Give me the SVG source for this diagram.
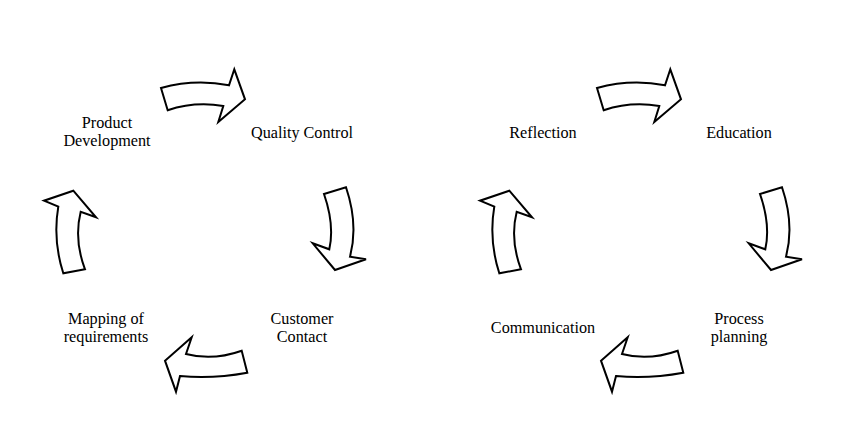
<svg xmlns="http://www.w3.org/2000/svg" xmlns:xlink="http://www.w3.org/1999/xlink" width="855" height="437" viewBox="0 0 855 437">
<style>
.bg{fill:#ffffff}
.arr{fill:#ffffff;stroke:#000000;stroke-width:2;stroke-linejoin:miter}
.lbl{font-family:"Liberation Serif","Times New Roman",serif;font-size:16.2px;fill:#000000;text-anchor:middle}
</style>
<defs>
<path id="aRight" d="M161,88 Q195,78.75 229,85.3 L234.3,69.3 L245,99.3 L218.3,122 L223.3,106 Q194.5,101.25 167.7,110.3 Z"/>
<path id="aDown" d="M324,194 L346,187.3 Q358.6,224.6 350,256.7 L366,259.3 L335,270 L312.7,243.3 L329.3,249.3 Q334.75,224.95 324,194 Z"/>
<path id="aLeft" d="M241.7,350.7 Q212.75,361.05 186,354 L191.7,337.3 L165,360.7 L176,391.7 L180,376 Q212.95,379.05 247.3,372.7 Z"/>
<path id="aUp" d="M63.3,273.3 Q52.6,240 58.3,206.7 L44,200.7 L73.3,190.7 L96,217.3 L80.7,211.7 Q73.75,239.5 85,269.3 Z"/>
</defs>
<rect class="bg" x="0" y="0" width="855" height="437"/>
<g id="connectors">
<use xlink:href="#aRight" href="#aRight" class="arr"/>
<use xlink:href="#aDown" href="#aDown" class="arr"/>
<use xlink:href="#aLeft" href="#aLeft" class="arr"/>
<use xlink:href="#aUp" href="#aUp" class="arr"/>
<use xlink:href="#aRight" href="#aRight" class="arr" transform="translate(436,0)"/>
<use xlink:href="#aDown" href="#aDown" class="arr" transform="translate(436,0)"/>
<use xlink:href="#aLeft" href="#aLeft" class="arr" transform="translate(436,0)"/>
<use xlink:href="#aUp" href="#aUp" class="arr" transform="translate(436,0)"/>
</g>
<g id="product-development"><text class="lbl" x="107" y="128">Product</text><text class="lbl" x="107" y="146.2">Development</text></g>
<g id="quality-control"><text class="lbl" x="302" y="138">Quality Control</text></g>
<g id="customer-contact"><text class="lbl" x="302" y="324">Customer</text><text class="lbl" x="302" y="342.2">Contact</text></g>
<g id="mapping-of-requirements"><text class="lbl" x="106" y="324">Mapping of</text><text class="lbl" x="106" y="342.2">requirements</text></g>
<g id="reflection"><text class="lbl" x="543" y="138">Reflection</text></g>
<g id="education"><text class="lbl" x="739" y="138">Education</text></g>
<g id="process-planning"><text class="lbl" x="739" y="324">Process</text><text class="lbl" x="739" y="342.2">planning</text></g>
<g id="communication"><text class="lbl" x="543" y="333">Communication</text></g>
</svg>
